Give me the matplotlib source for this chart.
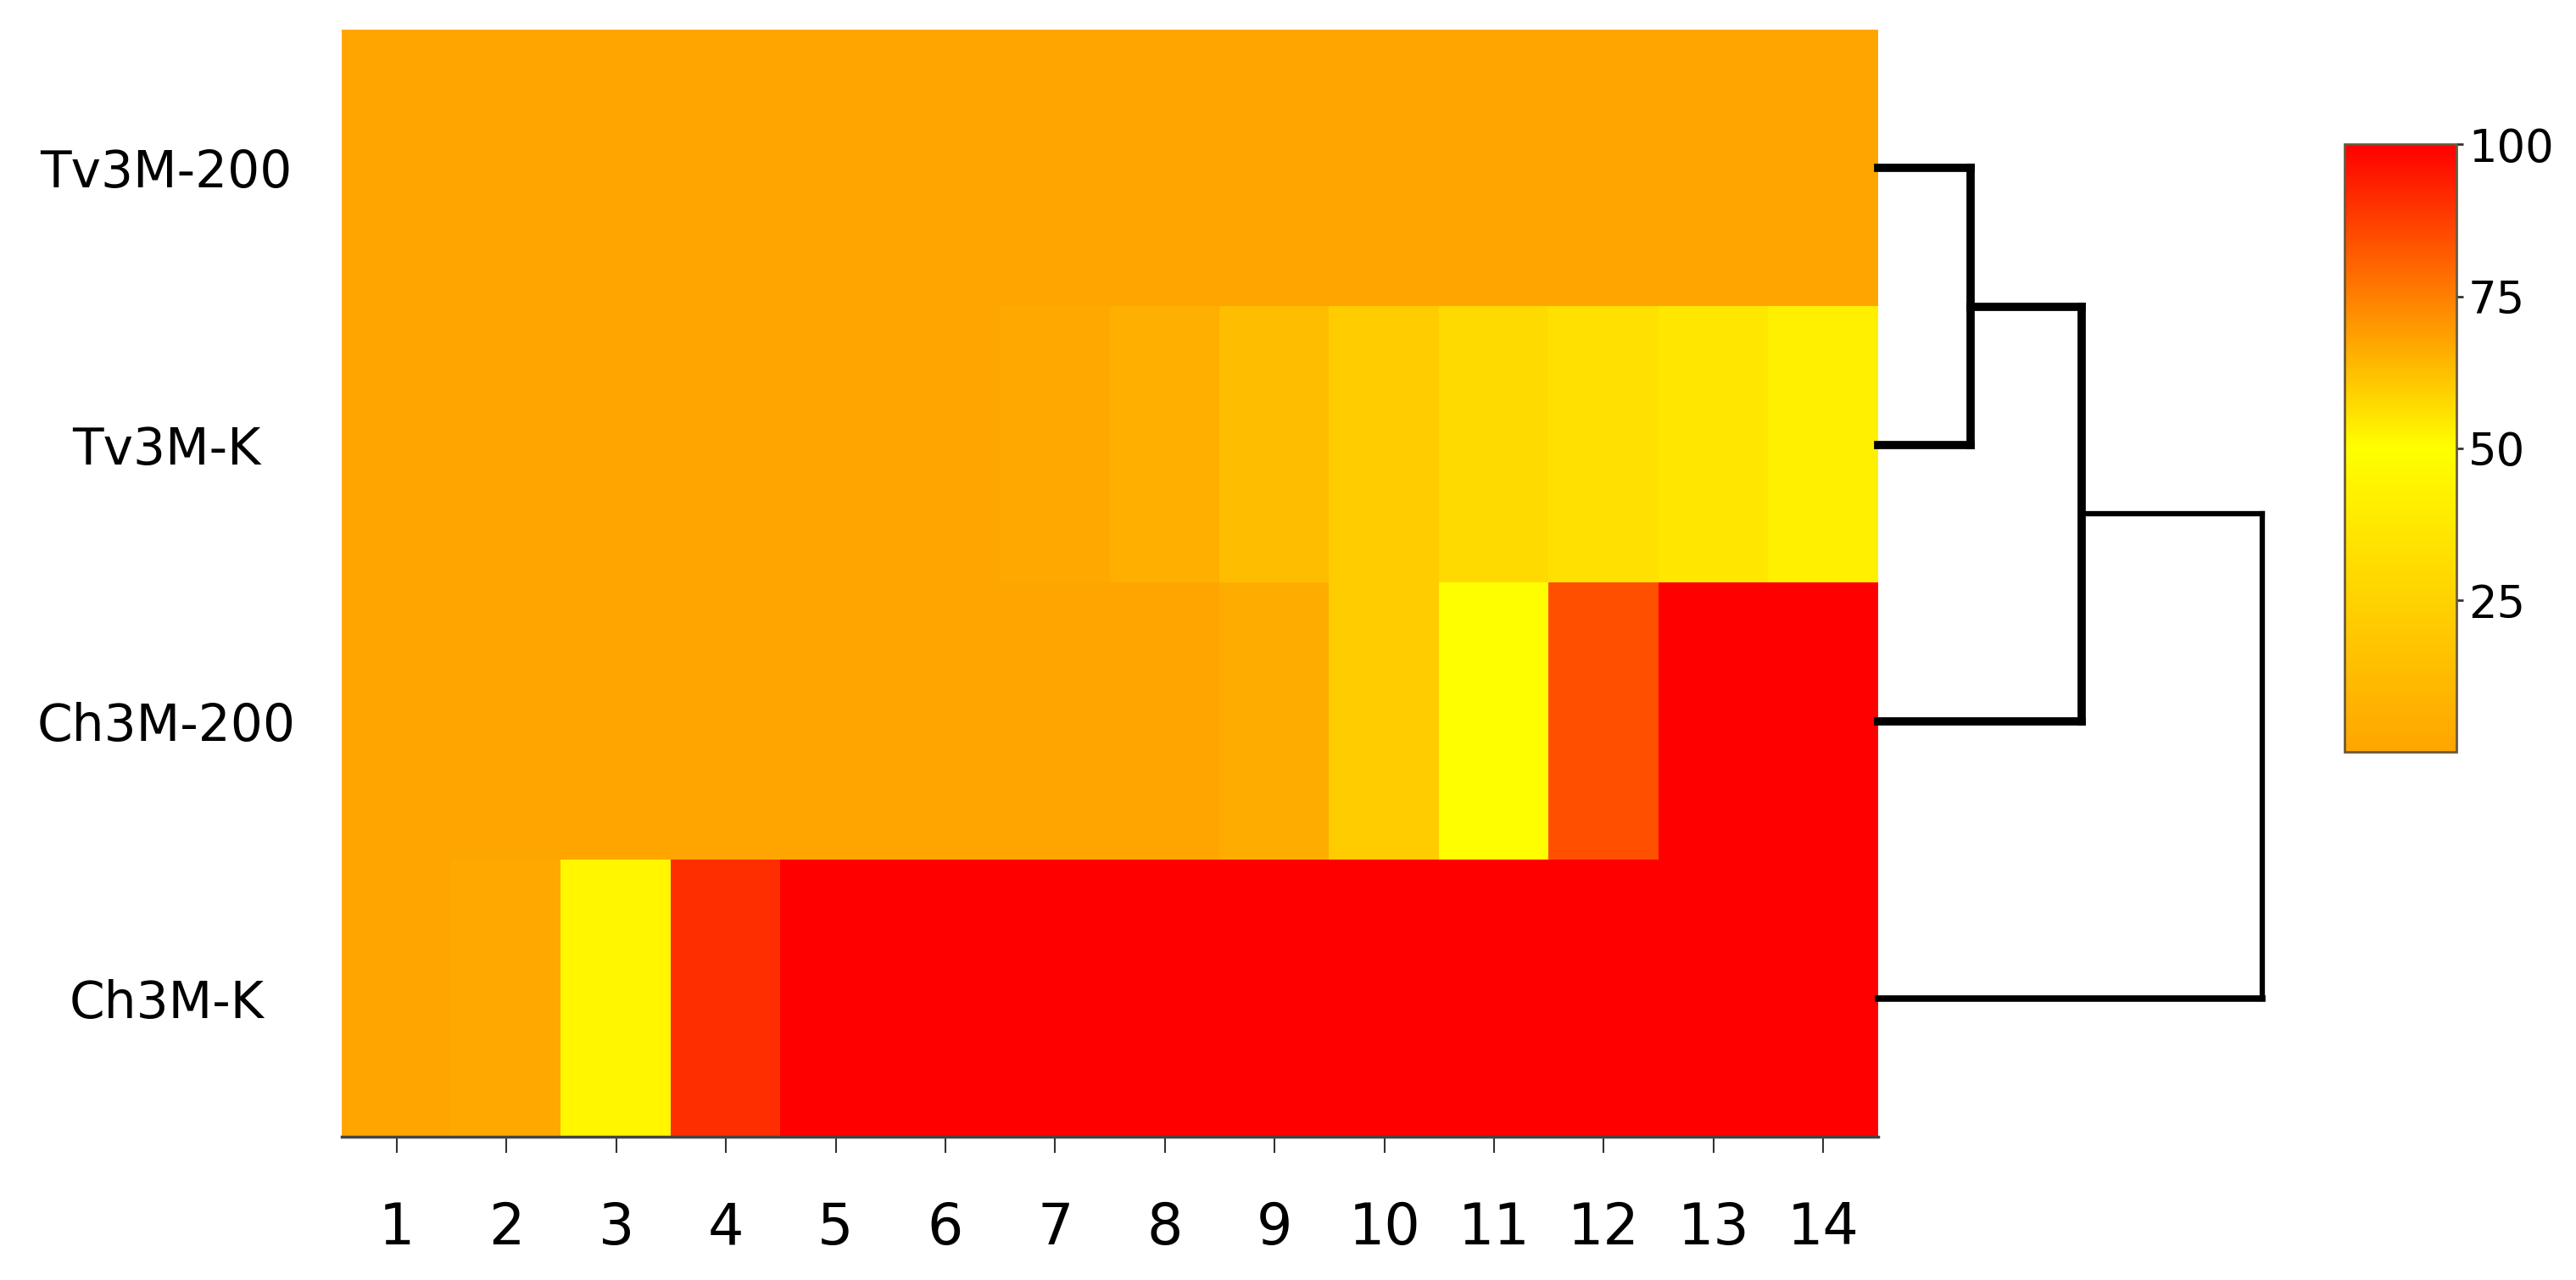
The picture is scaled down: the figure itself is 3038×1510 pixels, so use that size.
import matplotlib
matplotlib.use('Agg')
import matplotlib.pyplot as plt
import numpy as np
from matplotlib.colors import LinearSegmentedColormap

# Samples (rows) and positions (columns)
samples = ['Tv3M-200', 'Tv3M-K', 'Ch3M-200', 'Ch3M-K']
positions = [str(i) for i in range(1, 15)]

# Values (0-100)
tv3m_200 = [0, 0, 0, 0, 0, 0, 0, 0, 0, 0, 0, 0, 0, 0]
tv3m_k = [0, 0, 0, 0, 0, 0, 2, 6, 14, 22, 30, 33, 37, 42]
ch3m_200 = [0, 0, 0, 0, 0, 0, 0, 0, 4, 22, 50, 84, 100, 100]
ch3m_k = [0, 3, 45, 91, 100, 100, 100, 100, 100, 100, 100, 100, 100, 100]

# Dendrogram merge heights (relative): (Tv3M-200,Tv3M-K), +Ch3M-200, +Ch3M-K
merge_heights = [0.24, 0.53, 1.0]

cbar_ticks = [25, 50, 75, 100]

data = np.array([tv3m_200, tv3m_k, ch3m_200, ch3m_k], dtype=float)

cmap = LinearSegmentedColormap.from_list('oyr', ['#FFA500', '#FFFF00', '#FF0000'])

fig = plt.figure(figsize=(30.38, 15.10), dpi=100)

# Heatmap
ax = fig.add_axes([0.1327, 0.1119, 0.5964, 0.8649])
im = ax.imshow(data, cmap=cmap, vmin=0, vmax=100, aspect='auto', interpolation='nearest')

ax.set_xticks(range(len(positions)))
ax.set_xticklabels(positions, family=['Liberation Sans Narrow', 'DejaVu Sans'], fontsize=48)
ax.set_yticks(range(len(samples)))
ax.set_yticklabels(samples, fontsize=43, ha='center')
ax.tick_params(axis='x', length=14, width=1.5, color='#333333', pad=40)
ax.tick_params(axis='y', length=0, pad=149)

for side in ['top', 'left', 'right']:
    ax.spines[side].set_visible(False)
ax.spines['bottom'].set_color('#444444')
ax.spines['bottom'].set_linewidth(2.5)

# Dendrogram on the right side
dax = fig.add_axes([0.7291, 0.1119, 0.1492, 0.8649], sharey=ax)
dax.set_xlim(0, merge_heights[-1])
dax.axis('off')

h1, h2, h3 = merge_heights
thick, thin = 7, 4.5
kw = dict(color='black', solid_capstyle='projecting', clip_on=False)

# first cluster: Tv3M-200 + Tv3M-K
dax.plot([0, h1], [0, 0], lw=thick, **kw)
dax.plot([0, h1], [1, 1], lw=thick, **kw)
dax.plot([h1, h1], [0, 1], lw=thick, **kw)
c1 = 0.5
# second cluster: + Ch3M-200
dax.plot([h1, h2], [c1, c1], lw=thick, **kw)
dax.plot([0, h2], [2, 2], lw=thick, **kw)
dax.plot([h2, h2], [c1, 2], lw=thick, **kw)
c2 = (c1 + 2) / 2
# root: + Ch3M-K
dax.plot([h2, h3], [c2, c2], lw=thin, **kw)
dax.plot([0, h3], [3, 3], lw=5.5, **kw)
dax.plot([h3, h3], [c2, 3], lw=thin, **kw)

# Colorbar
cax = fig.add_axes([0.9102, 0.4125, 0.0434, 0.4746])
cbar = fig.colorbar(im, cax=cax, ticks=cbar_ticks)
cbar.outline.set_edgecolor('#6b5a3a')
cbar.outline.set_linewidth(2)
cbar.ax.tick_params(labelsize=38, length=6, width=2, color='#333333', pad=4)

fig.savefig('out.png', dpi=100)
